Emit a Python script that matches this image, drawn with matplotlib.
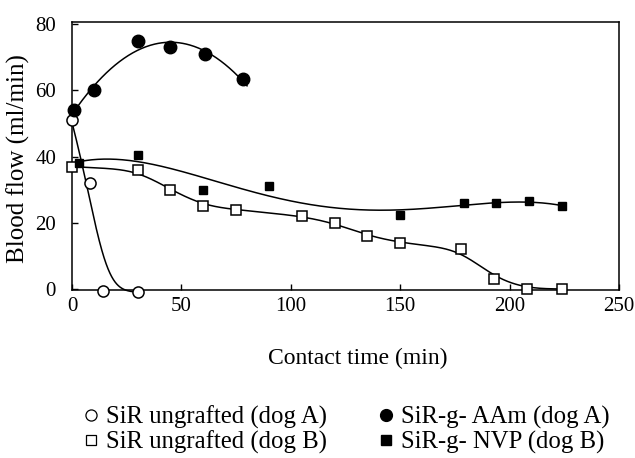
import numpy as np
import matplotlib
matplotlib.use("Agg")
import matplotlib.pyplot as plt
from matplotlib.lines import Line2D

plt.rcParams['font.family'] = ['Liberation Serif', 'DejaVu Serif']

# ---- data ----
dogA_ungr_x = [0, 8, 14, 30]
dogA_ungr_y = [51, 32, -0.5, -1]

aam_x = [1, 10, 30, 45, 61, 78]
aam_y = [54, 60, 75, 73, 71, 63.5]

dogB_ungr_x = [0, 30, 45, 60, 75, 105, 120, 135, 150, 178, 193, 208, 224]
dogB_ungr_y = [37, 36, 30, 25, 24, 22, 20, 16, 14, 12, 3, 0, 0]

nvp_x = [3, 30, 60, 90, 150, 179, 194, 209, 224]
nvp_y = [38, 40.5, 30, 31, 22.5, 26, 26, 26.5, 25]

labels = ["SiR ungrafted (dog A)", "SiR ungrafted (dog B)",
          "SiR-g- AAm (dog A)", "SiR-g- NVP (dog B)"]


def smooth_curve(x, y, sigma, n=600):
    """Linear interpolation of the data, smoothed with a Gaussian kernel."""
    x = np.asarray(x, float); y = np.asarray(y, float)
    step = (x[-1] - x[0]) / (n - 1)
    pad = int(4 * sigma / step) + 1
    xs = x[0] + step * np.arange(-pad, n + pad)
    ys = np.interp(xs, x, y)
    s0 = (y[1] - y[0]) / (x[1] - x[0]); s1 = (y[-1] - y[-2]) / (x[-1] - x[-2])
    lo = xs < x[0]; hi = xs > x[-1]
    ys[lo] = y[0] + s0 * (xs[lo] - x[0])
    ys[hi] = y[-1] + s1 * (xs[hi] - x[-1])
    k = np.arange(-pad, pad + 1) * step
    w = np.exp(-0.5 * (k / sigma) ** 2); w /= w.sum()
    ysm = np.convolve(ys, w, mode='same')
    return xs[pad:-pad], ysm[pad:-pad]


fig = plt.figure(figsize=(6.35, 4.58), dpi=100)
ax = fig.add_axes([0.1134, 0.3668, 0.8614, 0.5852])

lw = 1.1
# fitted curves
xa, ya = smooth_curve(dogA_ungr_x, dogA_ungr_y, 6)
ax.plot(xa, ya, color='k', lw=lw, zorder=2, clip_on=False)

xb = np.linspace(0, 80, 200)
cb = np.polyfit(aam_x, aam_y, 2)
ax.plot(xb, np.polyval(cb, xb), color='k', lw=lw, zorder=2)

xc, yc = smooth_curve(dogB_ungr_x, dogB_ungr_y, 8)
ax.plot(xc, yc, color='k', lw=lw, zorder=2, clip_on=False)

xd = np.linspace(0, 224, 400)
cd = np.polyfit(nvp_x, nvp_y, 4)
ax.plot(xd, np.polyval(cd, xd), color='k', lw=lw, zorder=2)

# markers
ax.plot(dogA_ungr_x, dogA_ungr_y, 'o', ms=8, mfc='white', mec='k', mew=1.1,
        ls='none', zorder=3, clip_on=False)
ax.plot(aam_x, aam_y, 'o', ms=9, mfc='k', mec='k', ls='none', zorder=3, clip_on=False)
ax.plot(dogB_ungr_x, dogB_ungr_y, 's', ms=7.5, mfc='white', mec='k', mew=1.1,
        ls='none', zorder=3, clip_on=False)
ax.plot(nvp_x, nvp_y, 's', ms=5.5, mfc='k', mec='k', ls='none', zorder=3, clip_on=False)

ax.set_xlim(0, 250)
ax.set_ylim(-0.3, 80.7)
ax.set_xticks([0, 50, 100, 150, 200, 250])
ax.set_yticks([0, 20, 40, 60, 80])
ax.tick_params(direction='in', length=4, width=1, labelsize=15)
ax.tick_params(axis='y', pad=11.5)
ax.tick_params(axis='x', pad=5)
for s in ax.spines.values():
    s.set_linewidth(1.1)
ax.set_xlabel("Contact time (min)", fontsize=17)
ax.xaxis.label.set_va('center')
ax.xaxis.set_label_coords(0.523, -0.257)
ax.set_ylabel("Blood flow (ml/min)", fontsize=18)
ax.yaxis.label.set_va('center')
ax.yaxis.set_label_coords(-0.0987, 0.489)

handles = [
    Line2D([], [], marker='o', ms=8, mfc='white', mec='k', mew=0.9, ls='none'),
    Line2D([], [], marker='s', ms=7, mfc='white', mec='k', mew=0.9, ls='none'),
    Line2D([], [], marker='o', ms=8.5, mfc='k', mec='k', ls='none'),
    Line2D([], [], marker='s', ms=7, mfc='k', mec='k', ls='none'),
]
fig.legend(handles, labels, ncol=2, loc='upper left', bbox_to_anchor=(0.1276, 0.1136),
           frameon=False, fontsize=17.8, handlelength=0.8, handletextpad=0.2,
           columnspacing=2.0, labelspacing=0.05, borderaxespad=0, borderpad=0)

fig.savefig("out.png", dpi=100)
